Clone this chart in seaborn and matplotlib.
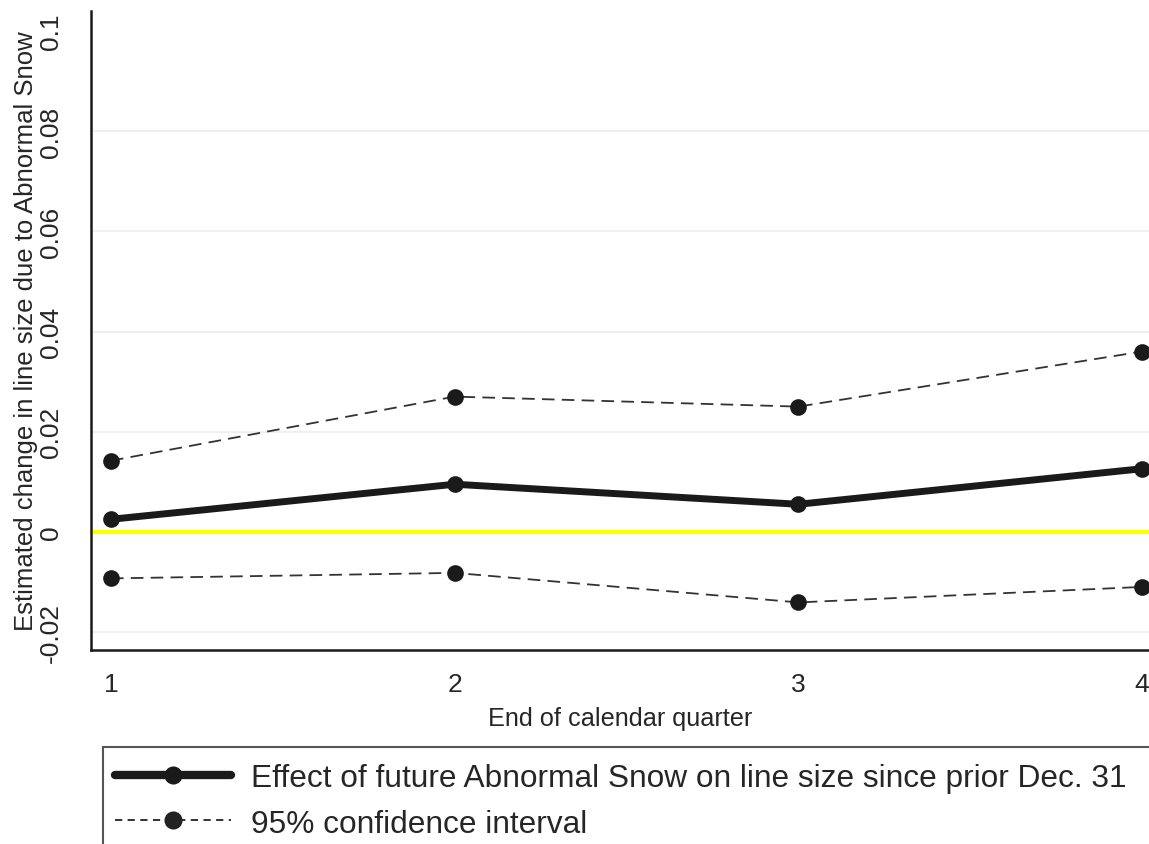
import numpy as np
import pandas as pd
import seaborn as sns
import matplotlib.pyplot as plt
from matplotlib.lines import Line2D
from matplotlib.patches import Rectangle

quarter = [1, 2, 3, 4]
effect = [0.0025, 0.0095, 0.0055, 0.0126]
ci_upper = [0.0142, 0.0270, 0.0250, 0.0360]
ci_lower = [-0.0093, -0.0082, -0.0141, -0.0110]
yticks = [-0.02, 0, 0.02, 0.04, 0.06, 0.08, 0.1]
ytick_labels = ["-0.02", "0", "0.02", "0.04", "0.06", "0.08", "0.1"]

sns.set_style("white")
plt.rcParams['font.family'] = ['Liberation Sans', 'DejaVu Sans']

df = pd.DataFrame({"quarter": quarter, "effect": effect,
                   "upper": ci_upper, "lower": ci_lower})

fig = plt.figure(figsize=(11.49, 8.45), dpi=100)
ax = fig.add_axes([91/1149, 1 - 651/845, 1 - 91/1149, (651 - 12)/845])

# light gridlines (none at the top tick)
for t in yticks[:-1]:
    ax.axhline(t, color="#efefef", lw=1.5, zorder=0)
ax.axhline(0, color="#ffff00", lw=3, zorder=1)

dash = (7, 4)
ci_color = "#333333"
sns.lineplot(data=df, x="quarter", y="upper", ax=ax, color=ci_color, lw=1.3,
             marker="o", markersize=12, markeredgewidth=0, zorder=3)
sns.lineplot(data=df, x="quarter", y="lower", ax=ax, color=ci_color, lw=1.3,
             marker="o", markersize=12, markeredgewidth=0, zorder=3)
for l in ax.lines[-2:]:
    l.set_dashes(dash)
    l.set_markerfacecolor("#1a1a1a")
sns.lineplot(data=df, x="quarter", y="effect", ax=ax, color="#1a1a1a", lw=5,
             marker="o", markersize=12, markeredgewidth=0, zorder=4)

ax.set_xlim(0.942, 4.02)
ax.set_ylim(-0.0236, 0.104)
ax.set_xticks(quarter)
ax.set_xticklabels([str(q) for q in quarter], fontsize=19)
ax.set_yticks(yticks)
ax.set_yticklabels(ytick_labels, fontsize=19, rotation=90, va="center")
ax.tick_params(axis="both", direction="out", length=9, width=1.5, color="#1a1a1a")
ax.tick_params(axis="y", pad=11)
ax.tick_params(axis="x", pad=7)

for s in ["top", "right"]:
    ax.spines[s].set_visible(False)
for s in ["left", "bottom"]:
    ax.spines[s].set_linewidth(1.8)
    ax.spines[s].set_color("#1a1a1a")

ax.set_xlabel("End of calendar quarter", fontsize=18.2, labelpad=7)
ax.set_ylabel("Estimated change in line size due to Abnormal Snow", fontsize=18.5, labelpad=1)

# legend box (extends past figure edge like the reference)
fig.patches.append(Rectangle((103/1149, -0.05), 1.0, 1 - 748/845 + 0.05,
                             transform=fig.transFigure, fill=False,
                             edgecolor="#555555", lw=1.5))
handles = [
    Line2D([], [], color="#1a1a1a", lw=6, marker="o", markersize=12),
    Line2D([], [], color="#222222", lw=1.3, ls=(0, (4, 3)), marker="o", markersize=12),
]
labels = ["Effect of future Abnormal Snow on line size since prior Dec. 31",
          "95% confidence interval"]
fig.legend(handles, labels, loc="upper left", bbox_to_anchor=(115/1149, 1 - 764/845),
           frameon=False, fontsize=22.8, handlelength=3.65, handletextpad=0.63,
           labelspacing=0.49, borderaxespad=0, borderpad=0, numpoints=1)

fig.savefig("out.png", dpi=100)
